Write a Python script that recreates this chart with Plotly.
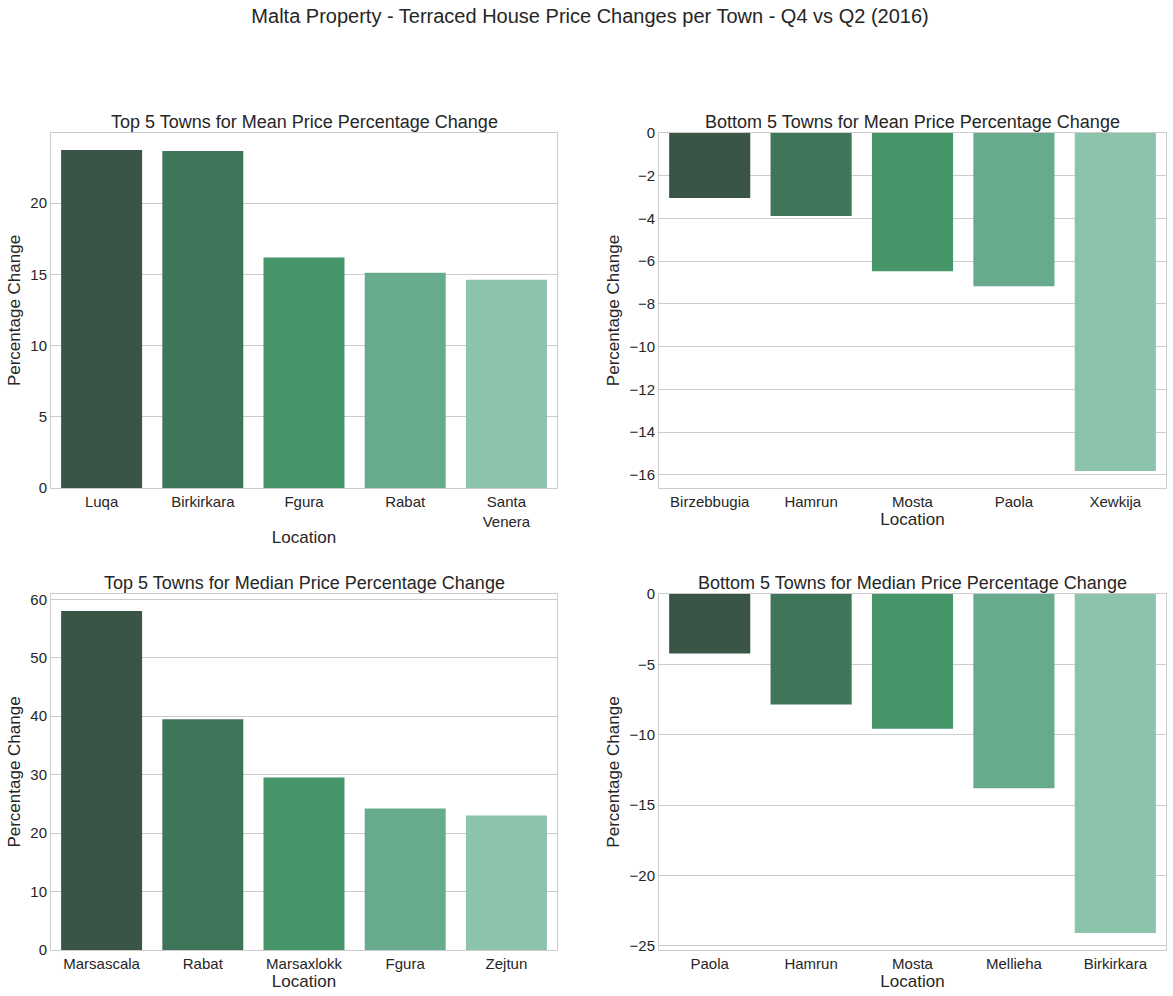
import plotly.graph_objects as go
from plotly.subplots import make_subplots

# ---- data ----
top_mean_towns = ["Luqa", "Birkirkara", "Fgura", "Rabat", "Santa<br>Venera"]
top_mean_vals = [23.74, 23.67, 16.19, 15.11, 14.62]

bottom_mean_towns = ["Birzebbugia", "Hamrun", "Mosta", "Paola", "Xewkija"]
bottom_mean_vals = [-3.04, -3.89, -6.47, -7.18, -15.83]

top_median_towns = ["Marsascala", "Rabat", "Marsaxlokk", "Fgura", "Zejtun"]
top_median_vals = [58.0, 39.47, 29.52, 24.2, 23.0]

bottom_median_towns = ["Paola", "Hamrun", "Mosta", "Mellieha", "Birkirkara"]
bottom_median_vals = [-4.22, -7.86, -9.58, -13.8, -24.09]

palette = ["#3a5546", "#3f7558", "#46966a", "#67ab8c", "#8cc3ab"]

titles = [
    "Top 5 Towns for Mean Price Percentage Change",
    "Bottom 5 Towns for Mean Price Percentage Change",
    "Top 5 Towns for Median Price Percentage Change",
    "Bottom 5 Towns for Median Price Percentage Change",
]

FONT = "Liberation Sans, Arial, sans-serif"
TXT = "#262626"
GRID = "#cccccc"

fig = make_subplots(rows=2, cols=2)

panels = [
    (1, 1, top_mean_towns, top_mean_vals),
    (1, 2, bottom_mean_towns, bottom_mean_vals),
    (2, 1, top_median_towns, top_median_vals),
    (2, 2, bottom_median_towns, bottom_median_vals),
]
for r, c, towns, vals in panels:
    fig.add_trace(
        go.Bar(x=towns, y=vals, marker=dict(color=palette, line=dict(width=0)),
               width=0.8, showlegend=False),
        row=r, col=c,
    )

def yrange(vals):
    lo = min(0, min(vals))
    hi = max(0, max(vals))
    span = hi - lo
    if hi > 0:
        return [0, hi + 0.05 * span]
    return [lo - 0.05 * span, 0]

W, H = 1173, 996
xdom = {1: [51 / W, 557 / W], 2: [659 / W, 1166 / W]}
ydom = {1: [(H - 488) / H, (H - 133) / H], 2: [(H - 950) / H, (H - 594) / H]}

tick_steps = {(1, 1): 5, (1, 2): 2, (2, 1): 10, (2, 2): 5}

for i, (r, c, towns, vals) in enumerate(panels):
    ax = "" if i == 0 else str(i + 1)
    rng = yrange(vals)
    fig.layout["xaxis" + ax].update(
        domain=xdom[c], range=[-0.5, 4.5], showgrid=False, zeroline=False,
        showline=True, mirror=True, linecolor=GRID, linewidth=1, automargin=False,
        ticks="", tickfont=dict(size=15, color=TXT, family=FONT),
        title=dict(text="Location", font=dict(size=17, color=TXT, family=FONT), standoff=2),
    )
    fig.layout["yaxis" + ax].update(
        domain=ydom[r], range=rng, showgrid=True, gridcolor=GRID, gridwidth=1,
        zeroline=False, showline=True, mirror=True, linecolor=GRID, linewidth=1,
        automargin=False,
        ticks="", dtick=tick_steps[(r, c)], tick0=0,
        tickfont=dict(size=15, color=TXT, family=FONT),
        title=dict(text="Percentage Change", font=dict(size=17, color=TXT, family=FONT), standoff=5),
    )
    fig.add_annotation(
        text=titles[i], xref="paper", yref="paper",
        x=(xdom[c][0] + xdom[c][1]) / 2, y=ydom[r][1], yshift=-1,
        xanchor="center", yanchor="bottom", showarrow=False,
        font=dict(size=18, color=TXT, family=FONT),
    )

fig.update_layout(
    width=W, height=H,
    margin=dict(l=0, r=0, t=0, b=0, autoexpand=False),
    paper_bgcolor="white", plot_bgcolor="white",
    bargap=0.2,
    title=dict(
        text="Malta Property - Terraced House Price Changes per Town - Q4 vs Q2 (2016)",
        x=0.503, xanchor="center", y=1 - 16 / H, yanchor="middle",
        font=dict(size=20, color=TXT, family=FONT),
    ),
    font=dict(family=FONT, color=TXT),
)

fig.write_html("out.html")
